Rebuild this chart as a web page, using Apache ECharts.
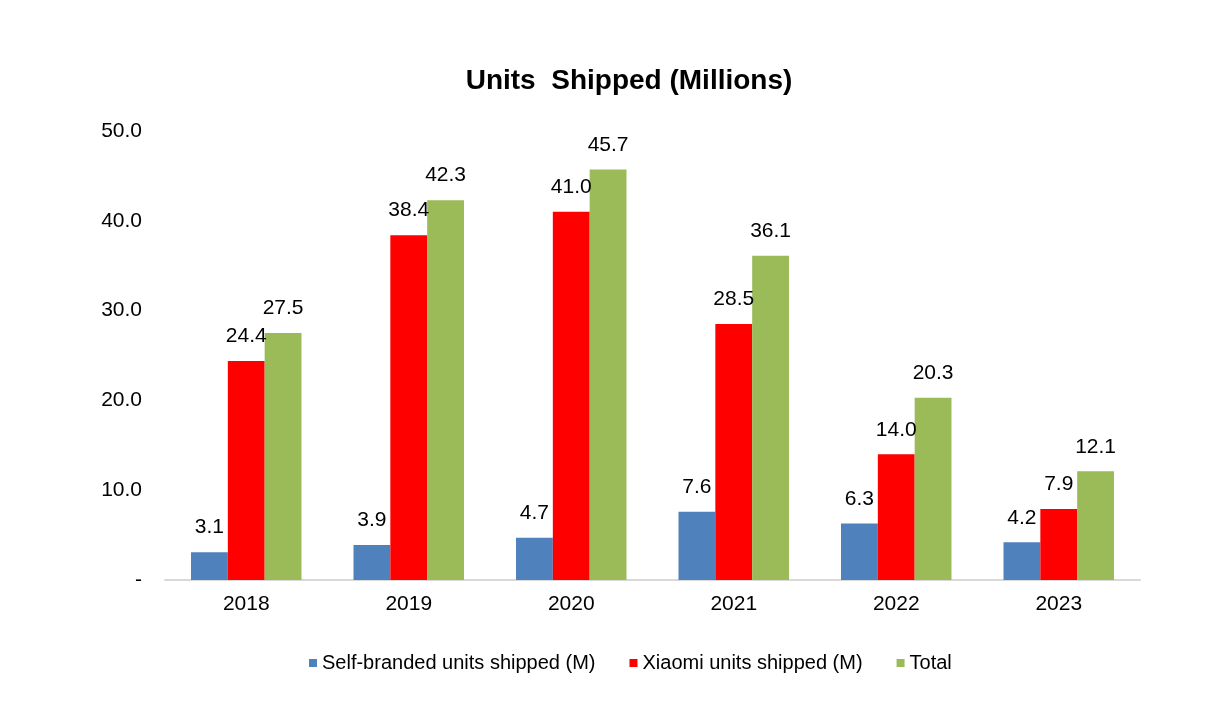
<!DOCTYPE html>
<html>
<head>
<meta charset="utf-8">
<script src="https://cdn.jsdelivr.net/npm/echarts@6/dist/echarts.min.js"></script>
<style>
  html, body { margin: 0; padding: 0; background: #fff; }
  #chart { width: 1224px; height: 716px; }
</style>
</head>
<body>
<div id="chart"></div>
<script>
const years = ['2018', '2019', '2020', '2021', '2022', '2023'];
const selfBranded = [3.1, 3.9, 4.7, 7.6, 6.3, 4.2];
const xiaomi = [24.4, 38.4, 41.0, 28.5, 14.0, 7.9];
const total = [27.5, 42.3, 45.7, 36.1, 20.3, 12.1];

const font = 'Liberation Sans, Arial, sans-serif';

const label = {
  show: true,
  position: 'top',
  distance: 14,
  color: '#000',
  fontFamily: font,
  fontSize: 21,
  formatter: (p) => p.value.toFixed(1),
};

const option = {
  animation: false,
  title: {
    text: 'Units  Shipped (Millions)',
    left: 624,
    top: 62,
    textAlign: 'center',
    textStyle: { fontFamily: font, fontSize: 28, fontWeight: 'bold', color: '#000' },
  },
  legend: {
    top: 648,
    left: 304,
    icon: 'rect',
    itemWidth: 8,
    itemHeight: 8,
    itemGap: 34,
    textStyle: { fontFamily: font, fontSize: 20, color: '#000' },
  },
  grid: { left: 165, right: 84, top: 131, bottom: 136 },
  xAxis: {
    type: 'category',
    data: years,
    axisLine: { lineStyle: { color: '#d9d9d9', width: 2 } },
    axisTick: { show: false },
    axisLabel: { color: '#000', fontFamily: font, fontSize: 21, margin: 14 },
  },
  yAxis: {
    type: 'value',
    min: 0,
    max: 50,
    interval: 10,
    splitLine: { show: false },
    axisLine: { show: false },
    axisTick: { show: false },
    axisLabel: {
      color: '#000',
      fontFamily: font,
      fontSize: 21,
      margin: 23,
      formatter: (v) => (v === 0 ? '-' : v.toFixed(1)),
    },
  },
  series: [
    {
      name: 'Self-branded units shipped (M)',
      type: 'bar',
      data: selfBranded,
      itemStyle: { color: '#4f81bd' },
      barGap: '0%',
      barCategoryGap: '32%',
      label,
    },
    {
      name: 'Xiaomi units shipped (M)',
      type: 'bar',
      data: xiaomi,
      itemStyle: { color: '#ff0000' },
      label,
    },
    {
      name: 'Total',
      type: 'bar',
      data: total,
      itemStyle: { color: '#9bbb59' },
      label,
    },
  ],
};

const chart = echarts.init(document.getElementById('chart'));
chart.setOption(option);
</script>
</body>
</html>
